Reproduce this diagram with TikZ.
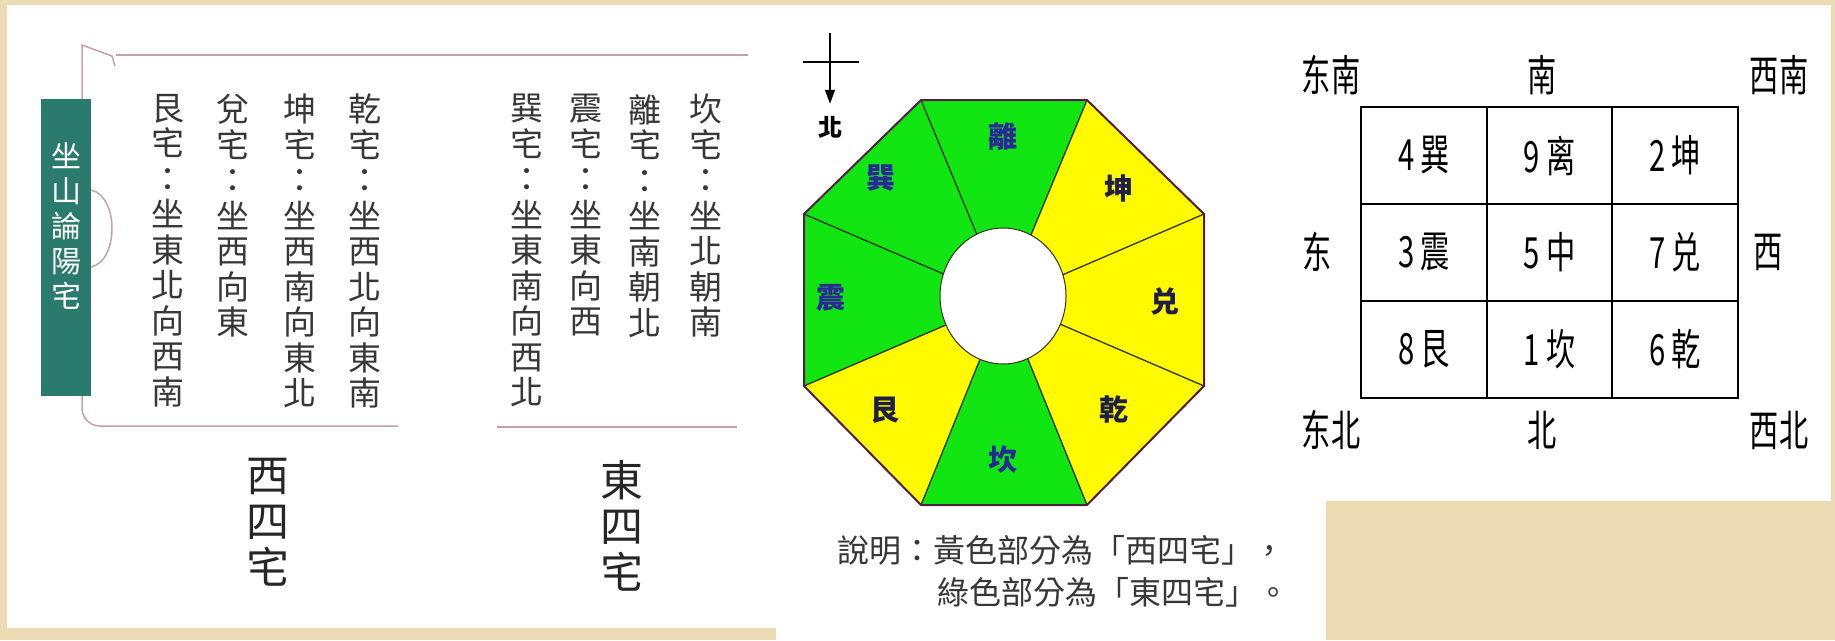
\documentclass[tikz,border=0pt]{standalone}
\usepackage{fontspec}
\usepackage{graphicx}
\usepackage{tikz}
\usetikzlibrary{arrows.meta}
\newfontfamily\tcfont{Noto Sans CJK TC}
\newfontfamily\scfont{Noto Sans CJK SC}
\definecolor{parch}{RGB}{236,219,178}
\definecolor{scrollteal}{RGB}{42,122,110}
\definecolor{scrollline}{RGB}{196,160,170}
\definecolor{baguagreen}{RGB}{18,230,18}
\definecolor{baguayellow}{RGB}{255,250,0}
\definecolor{baguaedge}{RGB}{80,30,70}
\definecolor{spokeline}{RGB}{50,50,30}
\definecolor{baguablue}{RGB}{40,40,150}
\definecolor{baguanavy}{RGB}{30,30,70}
\definecolor{inkgray}{RGB}{55,55,55}
\newcommand{\narrow}[1]{\scalebox{0.68}[1]{#1}}
\tikzset{scroll/.style={draw=scrollline, line width=1.5pt},
    col/.style={anchor=north, align=center, inner sep=0pt, text=inkgray, font=\tcfont\fontsize{33}{35.5}\selectfont},
    bigcol/.style={anchor=north, align=center, inner sep=0pt, text=black!85, font=\tcfont\fontsize{43}{46}\selectfont},
    titletext/.style={anchor=north, align=center, inner sep=0pt, text=white, font=\tcfont\fontsize{30}{35}\selectfont},
    sector/.style={inner sep=0pt, font=\tcfont\bfseries\fontsize{29}{29}\selectfont},
    spoke/.style={draw=spokeline, line width=1.3pt},
    note/.style={anchor=west, inner sep=0pt, text=inkgray, font=\tcfont\fontsize{32}{32}\selectfont},
    dir/.style={inner sep=0pt, font=\scfont\fontsize{43}{43}\selectfont},
    cell/.style={draw=black, line width=2pt, minimum width=125.7pt, minimum height=97pt, inner sep=0pt, font=\scfont\fontsize{43}{43}\selectfont}}
\begin{document}
\begin{tikzpicture}[x=1pt, y=-1pt]
                 \useasboundingbox (0,0) rectangle (1835,640);
                 \fill[parch] (0,0) rectangle (1835,640);
                 \fill[white] (7,5) rectangle (776,628);
                 \fill[white] (776,5) rectangle (1326,640);
                 \fill[white] (1326,5) rectangle (1831,501);

                 \draw[scroll] (82,99) -- (82,45) -- (112,56) -- (115,66);
                 \draw[scroll] (116,55) -- (748,55);
                 \draw[scroll] (82,396) -- (82,408) .. controls (82,418) and (90,426) .. (100,426) -- (398,426);
                 \draw[scroll] (497,427) -- (737,427);
                 \draw[scroll] (91,190) .. controls (119,196) and (119,261) .. (91,267);
                 \fill[scrollteal] (41,99) rectangle (91,396);
                 \node (title) [titletext] at (66,142) {坐\\山\\論\\陽\\宅};

                 \node (gen) [col] at (168,94) {艮\\宅\\：\\坐\\東\\北\\向\\西\\南};
                 \node (dui) [col] at (233,94) {兌\\宅\\：\\坐\\西\\向\\東};
                 \node (kun) [col] at (300,94) {坤\\宅\\：\\坐\\西\\南\\向\\東\\北};
                 \node (qian) [col] at (365,94) {乾\\宅\\：\\坐\\西\\北\\向\\東\\南};
                 \node (xun) [col] at (527,94) {巽\\宅\\：\\坐\\東\\南\\向\\西\\北};
                 \node (zhen) [col] at (586,94) {震\\宅\\：\\坐\\東\\向\\西};
                 \node (li) [col] at (645,94) {離\\宅\\：\\坐\\南\\朝\\北};
                 \node (kan) [col] at (706,94) {坎\\宅\\：\\坐\\北\\朝\\南};
                 \node (west4) [bigcol] at (268,458) {西\\四\\宅};
                 \node (east4) [bigcol] at (622,460) {東\\四\\宅};

                 \coordinate (o) at (1004,300);
                 \coordinate (v1) at (921,100);
                 \coordinate (v2) at (1087,100);
                 \coordinate (v3) at (1204,214);
                 \coordinate (v4) at (1204,386);
                 \coordinate (v5) at (1087,505);
                 \coordinate (v6) at (921,505);
                 \coordinate (v7) at (804,386);
                 \coordinate (v8) at (804,214);
                 \fill[baguagreen] (o) -- (v1) -- (v2) -- cycle;
                 \fill[baguayellow] (o) -- (v2) -- (v3) -- cycle;
                 \fill[baguayellow] (o) -- (v3) -- (v4) -- cycle;
                 \fill[baguayellow] (o) -- (v4) -- (v5) -- cycle;
                 \fill[baguagreen] (o) -- (v5) -- (v6) -- cycle;
                 \fill[baguayellow] (o) -- (v6) -- (v7) -- cycle;
                 \fill[baguagreen] (o) -- (v7) -- (v8) -- cycle;
                 \fill[baguagreen] (o) -- (v8) -- (v1) -- cycle;
                 \draw[spoke] (o) -- (v1);
                 \draw[spoke] (o) -- (v2);
                 \draw[spoke] (o) -- (v3);
                 \draw[spoke] (o) -- (v4);
                 \draw[spoke] (o) -- (v5);
                 \draw[spoke] (o) -- (v6);
                 \draw[spoke] (o) -- (v7);
                 \draw[spoke] (o) -- (v8);
                 \draw[spokeline, line width=1pt, fill=white] (1003,296) ellipse [x radius=63, y radius=68];
                 \draw[baguaedge, line width=2pt] (v1) -- (v2) -- (v3) -- (v4) -- (v5) -- (v6) -- (v7) -- (v8) -- cycle;

                 \node (s-li) [sector, text=baguablue] at (1003,136) {離};
                 \node (s-kun) [sector, text=baguanavy] at (1119,188) {坤};
                 \node (s-dui) [sector, text=baguanavy] at (1165,301) {兑};
                 \node (s-qian) [sector, text=baguanavy] at (1114,409) {乾};
                 \node (s-kan) [sector, text=baguablue] at (1003,460) {坎};
                 \node (s-gen) [sector, text=baguanavy] at (885,410) {艮};
                 \node (s-zhen) [sector, text=baguablue] at (831,298) {震};
                 \node (s-xun) [sector, text=baguablue] at (881,178) {巽};

                 \coordinate (ntop) at (830,33);
                 \coordinate (barl) at (803,62);
                 \coordinate (barr) at (859,62);
                 \node (north) [inner sep=12pt, font=\tcfont\bfseries\fontsize{24}{24}\selectfont] at (830,127) {北};
                 \draw[line width=1.5pt] (barl) -- (barr);
                 \draw[line width=1.5pt, -{Triangle[width=10pt, length=14pt]}] (ntop) -- (north);

                 \node (note1) [note] at (837,550) {說明：黃色部分為「西四宅」，};
                 \node (note2) [note] at (937,592) {綠色部分為「東四宅」。};

                 \node (c11) [cell] at (1423.8,155.5) {\narrow{4\hspace{9pt}巽}};
                 \node (c12) [cell] at (1549.5,155.5) {\narrow{9\hspace{9pt}离}};
                 \node (c13) [cell] at (1675.2,155.5) {\narrow{2\hspace{9pt}坤}};
                 \node (c21) [cell] at (1423.8,252.5) {\narrow{3\hspace{9pt}震}};
                 \node (c22) [cell] at (1549.5,252.5) {\narrow{5\hspace{9pt}中}};
                 \node (c23) [cell] at (1675.2,252.5) {\narrow{7\hspace{9pt}兑}};
                 \node (c31) [cell] at (1423.8,349.5) {\narrow{8\hspace{9pt}艮}};
                 \node (c32) [cell] at (1549.5,349.5) {\narrow{1\hspace{9pt}坎}};
                 \node (c33) [cell] at (1675.2,349.5) {\narrow{6\hspace{9pt}乾}};
                 \node (se) [dir] at (1331,75) {\narrow{东南}};
                 \node (s) [dir] at (1542,75) {\narrow{南}};
                 \node (sw) [dir] at (1779,75) {\narrow{西南}};
                 \node (e) [dir] at (1317,252) {\narrow{东}};
                 \node (w) [dir] at (1768,252) {\narrow{西}};
                 \node (ne) [dir] at (1331,430) {\narrow{东北}};
                 \node (n) [dir] at (1542,430) {\narrow{北}};
                 \node (nw) [dir] at (1779,430) {\narrow{西北}};
\end{tikzpicture}
\end{document}
